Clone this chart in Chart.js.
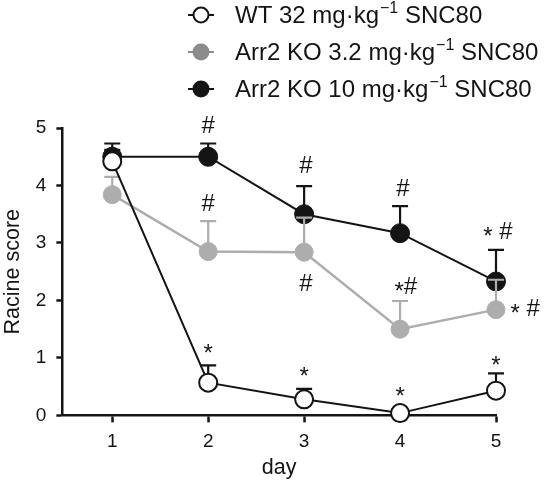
<!DOCTYPE html>
<html>
<head>
<meta charset="utf-8">
<script src="https://cdn.jsdelivr.net/npm/chart.js@4.4.1/dist/chart.umd.min.js"></script>
<style>
  body { margin: 0; background: #fff; }
  #wrap { width: 548px; height: 480px; }
</style>
</head>
<body>
<div id="wrap"><canvas id="racine" width="548" height="480"></canvas></div>
<script>
// data
const days = [1, 2, 3, 4, 5];
const wtMean = [4.42, 0.57, 0.28, 0.04, 0.43];
const wtSem = [0.2, 0.30, 0.18, 0, 0.30];
const ko32Mean = [3.84, 2.85, 2.84, 1.50, 1.84];
const ko32Sem = [0.31, 0.53, 0.60, 0.49, 0.52];
const ko10Mean = [4.50, 4.50, 3.50, 3.17, 2.33];
const ko10Sem = [0.23, 0.23, 0.49, 0.47, 0.55];

// significance marks (day, score, text)
const markDays = [2, 2, 3.02, 3.02, 4.03, 5.02, 4.06, 5.15, 2, 3, 4, 5];
const markScores = [5.03, 3.67, 4.33, 2.28, 3.93, 3.18, 2.22, 1.84, 1.14, 0.74, 0.40, 0.94];
const markTexts = ['#', '#', '#', '#', '#', '* #', '*#', '* #', '*', '*', '*', '*'];

const legendNames = [
  ['WT 32 mg·kg', '\u22121', ' SNC80'],
  ['Arr2 KO 3.2 mg·kg', '\u22121', ' SNC80'],
  ['Arr2 KO 10 mg·kg', '\u22121', ' SNC80']
];

const FONT = '"Liberation Sans", Arial, Helvetica, sans-serif';
const BLACK = '#141414';
const GREY = '#adadad';

function pts(means) {
  return days.map((d, i) => ({ x: d, y: means[i] }));
}

const errorBars = {
  id: 'errorBars',
  beforeDatasetDraw(chart, args) {
    const ds = chart.data.datasets[args.index];
    const ctx = chart.ctx;
    const ys = chart.scales.y;
    ctx.save();
    ctx.strokeStyle = ds.borderColor;
    ctx.lineWidth = 2.2;
    args.meta.data.forEach((pt, i) => {
      const sem = ds.sem[i];
      if (!sem) return;
      const top = ys.getPixelForValue(ds.data[i].y + sem);
      ctx.beginPath();
      ctx.moveTo(pt.x, pt.y);
      ctx.lineTo(pt.x, top);
      ctx.moveTo(pt.x - 8, top);
      ctx.lineTo(pt.x + 8, top);
      ctx.stroke();
    });
    ctx.restore();
  }
};

// draws a mark string char by char; the asterisk is pulled down to sit level with '#'
function drawMark(ctx, text, x, y, align) {
  const w = ctx.measureText(text).width;
  let cx = align === 'left' ? x : x - w / 2;
  for (const ch of text) {
    const cw = ctx.measureText(ch).width;
    ctx.fillText(ch, cx, ch === '*' ? y + 5 : y);
    cx += cw;
  }
}

const marksAndLegend = {
  id: 'marksAndLegend',
  afterDraw(chart) {
    const ctx = chart.ctx;
    const xs = chart.scales.x, ys = chart.scales.y;
    ctx.save();
    ctx.fillStyle = BLACK;
    ctx.font = '24px ' + FONT;
    ctx.textBaseline = 'middle';
    ctx.textAlign = 'left';
    markTexts.forEach((t, i) => {
      drawMark(ctx, t, xs.getPixelForValue(markDays[i]), ys.getPixelForValue(markScores[i]),
        markDays[i] > 5.1 ? 'left' : 'center');
    });

    // legend
    const fills = ['#ffffff', '#8c8c8c', BLACK];
    const strokes = [BLACK, '#8c8c8c', BLACK];
    legendNames.forEach((parts, i) => {
      const cy = 15 + i * 37;
      ctx.strokeStyle = strokes[i];
      ctx.lineWidth = 2;
      ctx.beginPath();
      ctx.moveTo(188, cy);
      ctx.lineTo(214, cy);
      ctx.stroke();
      ctx.beginPath();
      ctx.arc(201, cy, 7.5, 0, Math.PI * 2);
      ctx.fillStyle = fills[i];
      ctx.fill();
      ctx.stroke();
      ctx.fillStyle = BLACK;
      let x = 235;
      ctx.font = '24px ' + FONT;
      ctx.fillText(parts[0], x, cy + 1);
      x += ctx.measureText(parts[0]).width + 1;
      ctx.font = '16px ' + FONT;
      ctx.fillText(parts[1], x, cy - 6);
      x += ctx.measureText(parts[1]).width;
      ctx.font = '24px ' + FONT;
      ctx.fillText(parts[2], x, cy + 1);
    });
    ctx.restore();
  }
};

new Chart(document.getElementById('racine'), {
  type: 'line',
  data: {
    datasets: [
      {
        label: 'WT 32 mg·kg−1 SNC80',
        data: pts(wtMean), sem: wtSem,
        borderColor: BLACK, borderWidth: 2,
        pointBackgroundColor: '#fff', pointBorderColor: BLACK,
        pointBorderWidth: 2, pointRadius: 9
      },
      {
        label: 'Arr2 KO 3.2 mg·kg−1 SNC80',
        data: pts(ko32Mean), sem: ko32Sem,
        borderColor: GREY, borderWidth: 2.5,
        pointBackgroundColor: GREY, pointBorderColor: GREY,
        pointBorderWidth: 1, pointRadius: 9
      },
      {
        label: 'Arr2 KO 10 mg·kg−1 SNC80',
        data: pts(ko10Mean), sem: ko10Sem,
        borderColor: BLACK, borderWidth: 2,
        pointBackgroundColor: BLACK, pointBorderColor: BLACK,
        pointBorderWidth: 1, pointRadius: 9.5
      }
    ]
  },
  options: {
    responsive: false,
    animation: false,
    clip: false,
    layout: { padding: { top: 128, right: 52, bottom: 2, left: 0 } },
    plugins: { legend: { display: false }, tooltip: { enabled: false } },
    scales: {
      x: {
        type: 'linear', min: 0.48, max: 5,
        afterBuildTicks: (axis) => { axis.ticks = days.map(d => ({ value: d })); },
        grid: { display: true, drawOnChartArea: false, drawTicks: true, tickLength: 7, tickWidth: 2.5, tickColor: BLACK },
        border: { display: true, color: BLACK, width: 2.5 },
        ticks: { color: BLACK, font: { family: FONT, size: 19 }, padding: 8 },
        title: { display: true, text: 'day', color: BLACK, font: { family: FONT, size: 21.5 }, padding: { top: -6, bottom: -3 } }
      },
      y: {
        min: 0, max: 5,
        ticks: { stepSize: 1, color: BLACK, font: { family: FONT, size: 19 }, padding: 10 },
        grid: { display: true, drawOnChartArea: false, drawTicks: true, tickLength: 6, tickWidth: 2.5, tickColor: BLACK },
        border: { display: true, color: BLACK, width: 2.5 },
        title: { display: true, text: 'Racine score', color: BLACK, font: { family: FONT, size: 21.5 }, padding: { top: 0, bottom: 0 } }
      }
    }
  },
  plugins: [errorBars, marksAndLegend]
});
</script>
</body>
</html>
